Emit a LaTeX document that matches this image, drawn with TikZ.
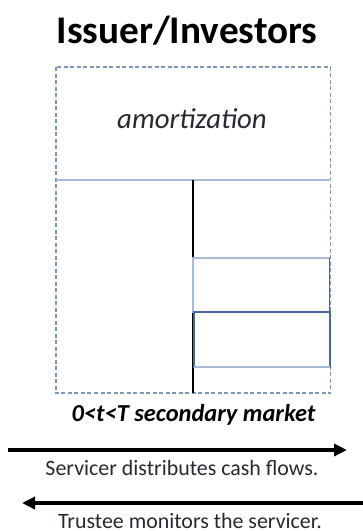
\documentclass[tikz,border=0pt]{standalone}
\usepackage{fontspec}
\setmainfont{Carlito}
\usetikzlibrary{arrows.meta}
\definecolor{lightedge}{HTML}{A9BBD4}
\definecolor{dashedge}{HTML}{7F97B6}
\definecolor{darkedge}{HTML}{45699A}
\definecolor{captext}{HTML}{262A30}
\tikzset{
  label/.style={anchor=base, inner sep=0pt, text=captext},
  flow/.style={line width=3.6pt, -{Triangle[length=13pt,width=12pt]}},
  frame/.style={draw=dashedge, line width=1.2pt, dash pattern=on 4pt off 2.5pt},
  thin/.style={draw=lightedge, line width=1.3pt},
  strong/.style={draw=darkedge, line width=1.4pt}
}
\begin{document}
\begin{tikzpicture}[x=1pt,y=-1pt]
\useasboundingbox (0,0) rectangle (363,531);
\fill[white] (0,0) rectangle (363,531);

% heading
\node[label, text=black, font=\bfseries\fontsize{39.2}{41}\selectfont] (title) at (187,43) {Issuer/Investors};

% frame corners and internal divisions
\coordinate (tl) at (56,67);
\coordinate (br) at (330.5,393);
\coordinate (ml) at (56,180);
\coordinate (mr) at (330.5,180);
\coordinate (cx) at (193,180);
\coordinate (cb) at (193,393);

% upper amortization area and dashed outer frame
\draw[frame] (tl) rectangle (br);
\draw[thin] (ml) -- (mr);
\node[label, font=\itshape\fontsize{28.8}{30}\selectfont] (amort) at (192,128.5) {amortization};

% middle divider
\draw[black, line width=1.2pt] (cx) -- (cb);

% stacked tranches on the right
\draw[thin] (193,258) rectangle (329.5,312);
\draw[strong] (193,312) -- (329.5,312) -- (329.5,258);
\draw[strong] (194,312) rectangle (330,367);
\draw[thin] (194,367) -- (330,367);

\node[label, text=black, font=\bfseries\itshape\fontsize{24.4}{26}\selectfont] (market) at (193.5,421.7) {0<t<T secondary market};

% flows
\coordinate (a1s) at (8,450);
\coordinate (a1e) at (347,450);
\coordinate (a2s) at (363,503);
\coordinate (a2e) at (22,503);
\draw[flow] (a1s) -- (a1e);
\node[label, font=\fontsize{21.9}{23}\selectfont] (serv) at (182,475) {Servicer distributes cash flows.};
\draw[flow] (a2s) -- (a2e);
\node[label, font=\fontsize{21.9}{23}\selectfont] (trust) at (190,528) {Trustee monitors the servicer.};
\end{tikzpicture}
\end{document}
